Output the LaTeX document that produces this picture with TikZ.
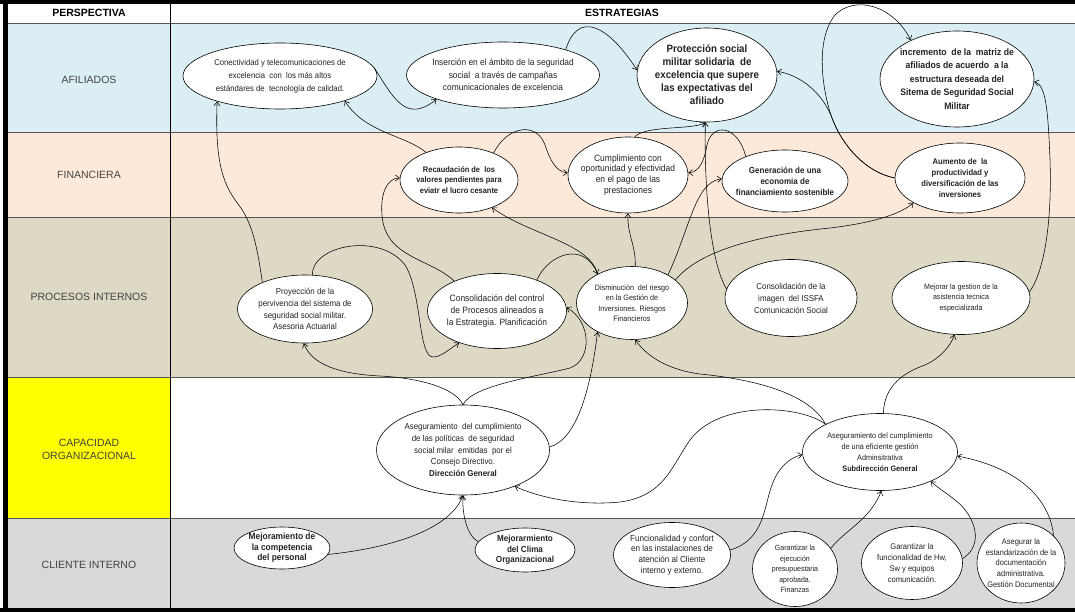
\documentclass[tikz,border=0pt]{standalone}
\usepackage{fontspec}
\setmainfont{Liberation Sans}
\newfontfamily\nar{Liberation Sans}[FakeStretch=0.92]
\usetikzlibrary{shapes.geometric,arrows.meta}
\definecolor{afil}{HTML}{DBEEF4}
\definecolor{fina}{HTML}{FDE9D9}
\definecolor{proc}{HTML}{DDD9C4}
\definecolor{capa}{HTML}{FFFF00}
\definecolor{clie}{HTML}{D9D9D9}
\definecolor{ink}{HTML}{222222}
\definecolor{rulec}{HTML}{555555}
\newcommand{\fsz}[2]{\nar\fontsize{#1}{#2}\selectfont}
\begin{document}
\begin{tikzpicture}[x=1pt,y=1pt,
  bub/.style={draw=black, line width=0.6pt, fill=white, ellipse, inner sep=0pt},
  lab/.style={align=center, text=ink, inner sep=0pt},
  rowlab/.style={align=center, text=ink!85, inner sep=0pt, font=\fontsize{10.5}{13}\selectfont},
  conn/.style={line width=0.55pt, draw=black},
  arr/.style={conn, -{Straight Barb[length=4pt,width=6pt]}}]
% canvas
\fill[white] (0,0) rectangle (1075,-612);
\useasboundingbox (0,0) rectangle (1075,-612);
% perspective bands
\fill[afil] (8,-23) rectangle (1075,-132);
\fill[fina] (8,-132) rectangle (1075,-217);
\fill[proc] (8,-217) rectangle (1075,-377);
\fill[capa] (8,-377) rectangle (170,-518);
\fill[clie] (8,-518) rectangle (1075,-608);
\foreach \yy in {23,132,217,377,518}
  \draw[rulec, line width=0.8pt] (8,-\yy) -- (1075,-\yy);
\draw[black, line width=0.8pt] (170,-3) -- (170,-608);
% outer frame
\fill[black] (0,0) rectangle (1075,-4);
\fill[black] (0,-608) rectangle (1075,-612);
\fill[black] (3,0) rectangle (8,-612);
% header and row labels
\node[font=\fontsize{10.5}{13}\selectfont\bfseries] (hp) at (89,-13) {PERSPECTIVA};
\node[font=\fontsize{10.5}{13}\selectfont\bfseries] (he) at (622,-13) {ESTRATEGIAS};
\node[rowlab] (r1) at (89,-80) {AFILIADOS};
\node[rowlab] (r2) at (89,-175) {FINANCIERA};
\node[rowlab] (r3) at (89,-297) {PROCESOS INTERNOS};
\node[rowlab] (r4) at (89,-449) {CAPACIDAD\\ORGANIZACIONAL};
\node[rowlab] (r5) at (89,-565) {CLIENTE INTERNO};

% ---- AFILIADOS
\node[bub, minimum width=194pt, minimum height=66pt] (conec) at (280,-76) {};
\node[lab, font=\fsz{8.4}{13}] (conec-t) at (conec) {Conectividad y telecomunicaciones de\\excelencia \ con \ los más altos\\estándares de \ tecnología de calidad.};
\node[bub, minimum width=193pt, minimum height=66pt] (inser) at (503,-75) {};
\node[lab, font=\fsz{9.1}{12.5}] (inser-t) at (inser) {Inserción en el ámbito de la seguridad\\social \ a través de campañas\\comunicacionales de excelencia};
\node[bub, minimum width=140pt, minimum height=94pt] (prot) at (707,-75) {};
\node[lab, font=\fsz{10.6}{13}\bfseries] (prot-t) at (prot) {Protección social\\militar solidaria \ de\\excelencia que supere\\las expectativas del\\afiliado};
\node[bub, minimum width=154pt, minimum height=96pt] (incr) at (957,-79) {};
\node[lab, font=\fsz{9.4}{13.5}\bfseries] (incr-t) at (incr) {incremento \ de la \ matriz de\\afiliados de acuerdo \ a la\\estructura deseada del\\Sitema de Seguridad Social\\Militar};

% ---- FINANCIERA
\node[bub, minimum width=118pt, minimum height=66pt] (recau) at (459,-180) {};
\node[lab, font=\fsz{8.1}{10.5}\bfseries] (recau-t) at (recau) {Recaudación de \ los\\valores pendientes para\\eviatr el lucro cesante};
\node[bub, minimum width=120pt, minimum height=76pt] (cumpl) at (628,-175) {};
\node[lab, font=\fsz{9.2}{10.8}] (cumpl-t) at (cumpl) {Cumplimiento con\\oportunidad y efectividad\\en el pago de las\\prestaciones};
\node[bub, minimum width=126pt, minimum height=62pt] (gener) at (785,-181) {};
\node[lab, font=\fsz{8.7}{11}\bfseries] (gener-t) at (gener) {Generación de una\\economia de\\financiamiento sostenible};
\node[bub, minimum width=130pt, minimum height=70pt] (aumen) at (960,-178) {};
\node[lab, font=\fsz{8.3}{11}\bfseries] (aumen-t) at (aumen) {Aumento de \ la\\productividad y\\diversificación de las\\inversiones};

% ---- PROCESOS INTERNOS
\node[bub, minimum width=135pt, minimum height=68pt] (proy) at (305,-309) {};
\node[lab, font=\fsz{8.6}{11.8}] (proy-t) at (proy) {Proyección de la\\pervivencia del sistema de\\seguridad social militar.\\Asesoria Actuarial};
\node[bub, minimum width=139pt, minimum height=75pt] (ccont) at (497,-311) {};
\node[lab, font=\fsz{9.2}{12}] (ccont-t) at (ccont) {Consolidación del control\\de Procesos alineados a\\la Estrategia. Planificación};
\node[bub, minimum width=111pt, minimum height=73pt] (dismi) at (632,-303) {};
\node[lab, font=\fsz{7.8}{10.5}] (dismi-t) at (dismi) {Disminución \ del riesgo\\en la Gestión de\\Inversiones. Riesgos\\Financieros};
\node[bub, minimum width=132pt, minimum height=77pt] (cimag) at (791,-298) {};
\node[lab, font=\fsz{8.6}{12}] (cimag-t) at (cimag) {Consolidación de la\\imagen \ del ISSFA\\Comunicación Social};
\node[bub, minimum width=138pt, minimum height=73pt] (mejor) at (961,-298) {};
\node[lab, font=\fsz{7.7}{10.5}] (mejor-t) at (mejor) {Mejorar la gestion de la\\asistencia tecnica\\especializada};

% ---- CAPACIDAD ORGANIZACIONAL
\node[bub, minimum width=173pt, minimum height=90pt] (adg) at (463,-450) {};
\node[lab, font=\fsz{8.6}{11.8}] (adg-t) at (adg) {Aseguramiento \ del cumplimiento\\de las políticas \ de seguridad\\social milar \ emitidas \ por el\\Consejo Directivo.\\\textbf{Dirección General}};
\node[bub, minimum width=155pt, minimum height=77pt] (asg) at (880,-452) {};
\node[lab, font=\fsz{7.9}{11}] (asg-t) at (asg) {Aseguramiento del cumplimiento\\de una eficiente gestión\\Adminsitrativa\\\textbf{Subdirección General}};

% ---- CLIENTE INTERNO
\node[bub, minimum width=96pt, minimum height=42pt] (mcomp) at (282,-548) {};
\node[lab, font=\fsz{9.1}{10.5}\bfseries] (mcomp-t) at (mcomp) {Mejoramiento de\\la competencia\\del personal};
\node[bub, minimum width=100pt, minimum height=44pt] (mclim) at (525,-550) {};
\node[lab, font=\fsz{8.8}{10.5}\bfseries] (mclim-t) at (mclim) {Mejorarmiento\\del Clima\\Organizacional};
\node[bub, minimum width=117pt, minimum height=65pt] (func) at (672,-555) {};
\node[lab, font=\fsz{8.8}{10.8}] (func-t) at (func) {Funcionalidad y confort\\en las instalaciones de\\atención al Cliente\\interno y externo.};
\node[bub, minimum width=85pt, minimum height=75pt] (gejec) at (795,-569) {};
\node[lab, font=\fsz{7.6}{10.5}] (gejec-t) at (gejec) {Garantizar la\\ejecución\\presupuestaria\\aprobada.\\Finanzas};
\node[bub, minimum width=101pt, minimum height=73pt] (ghw) at (912,-563) {};
\node[lab, font=\fsz{8.2}{10.8}] (ghw-t) at (ghw) {Garantizar la\\funcionalidad de Hw,\\Sw y equipos\\comunicación.};
\node[bub, minimum width=88pt, minimum height=80pt] (asegd) at (1021,-563) {};
\node[lab, font=\fsz{8.1}{10.6}] (asegd-t) at (asegd) {Asegurar la\\estandarización de la\\documentación\\administrativa.\\Gestión Documental};

% ---- cause-effect links
\draw[arr] (proy.148) .. controls (257,-245) and (252,-222) .. (238,-204) .. controls (222,-183) and (215,-160) .. (conec.-158);
\draw[arr] (recau.140) .. controls (405,-135) and (365,-133) .. (conec.-21);
\draw[arr] (conec.5) .. controls (392,-95) and (405,-125) .. (inser.-160);
\draw[arr] (inser.22) .. controls (578,-10) and (608,-25) .. (prot.176);
\draw[arr] (aumen.180) .. controls (865,-172) and (842,-145) .. (832,-118) .. controls (822,-92) and (800,-75) .. (prot.3);
\draw[arr] (aumen.180) .. controls (865,-172) and (842,-145) .. (832,-118) .. controls (822,-90) and (815,-40) .. (835,-15) .. controls (855,5) and (893,-5) .. (incr.140);
\draw[arr] (mejor.5) .. controls (1045,-270) and (1052,-220) .. (1050,-160) .. controls (1048,-110) and (1046,-85) .. (incr.-2);
\draw[arr] (recau.38) .. controls (508,-125) and (537,-122) .. (545,-145) .. controls (550,-160) and (556,-172) .. (cumpl.178);
\draw[arr] (gener.148) .. controls (738,-125) and (712,-122) .. (707,-145) .. controls (704,-162) and (699,-172) .. (cumpl.2);
\draw[arr] (cumpl.80) .. controls (645,-125) and (695,-130) .. (prot.-92);
\draw[arr] (dismi.85) .. controls (636,-245) and (627,-235) .. (cumpl.-90);
\draw[arr] (dismi.38) .. controls (690,-228) and (695,-182) .. (gener.178);
\draw[arr] (cimag.172) .. controls (712,-265) and (704,-200) .. (prot.-92);
\draw[arr] (dismi.28) .. controls (700,-250) and (760,-235) .. (830,-228) .. controls (880,-222) and (903,-212) .. (aumen.-152);
\draw[arr] (dismi.140) .. controls (590,-243) and (530,-235) .. (recau.-40);
\draw[arr] (ccont.38) .. controls (550,-252) and (585,-242) .. (dismi.140);
\draw[arr] (ccont.145) .. controls (430,-258) and (385,-258) .. (382,-215) .. controls (380,-192) and (388,-178) .. (recau.178);
\draw[arr] (proy.78) .. controls (312,-245) and (380,-232) .. (405,-265) .. controls (422,-292) and (418,-357) .. (433,-357) .. controls (441,-357) and (448,-350) .. (ccont.-140);
\draw[arr] (adg.90) .. controls (455,-388) and (420,-378) .. (380,-376) .. controls (340,-374) and (312,-365) .. (proy.-92);
\draw[arr] (adg.90) .. controls (472,-385) and (540,-376) .. (570,-368) .. controls (592,-360) and (592,-322) .. (ccont.3);
\draw[arr] (adg.2) .. controls (575,-440) and (590,-395) .. (dismi.-140);
\draw[arr] (asg.153) .. controls (810,-395) and (760,-380) .. (700,-374) .. controls (670,-370) and (648,-358) .. (dismi.-85);
\draw[arr] (asg.153) .. controls (800,-405) and (720,-400) .. (690,-440) .. controls (672,-465) and (665,-496) .. (620,-502) .. controls (580,-506) and (540,-498) .. (adg.-35);
\draw[arr] (asg.85) .. controls (884,-385) and (905,-372) .. (925,-365) .. controls (940,-358) and (950,-347) .. (mejor.-100);
\draw[arr] (func.5) .. controls (765,-540) and (764,-505) .. (772,-485) .. controls (778,-468) and (790,-457) .. (asg.-178);
\draw[arr] (gejec.30) .. controls (845,-530) and (870,-520) .. (asg.-88);
\draw[arr] (ghw.5) .. controls (985,-545) and (975,-515) .. (955,-500) .. controls (945,-492) and (938,-488) .. (asg.-30);
\draw[arr] (asegd.40) .. controls (1050,-500) and (1020,-468) .. (asg.-3);
\draw[arr] (mcomp.-8) .. controls (390,-548) and (450,-530) .. (adg.-90);
\draw[arr] (mclim.170) .. controls (466,-535) and (462,-512) .. (adg.-90);
\end{tikzpicture}
\end{document}
